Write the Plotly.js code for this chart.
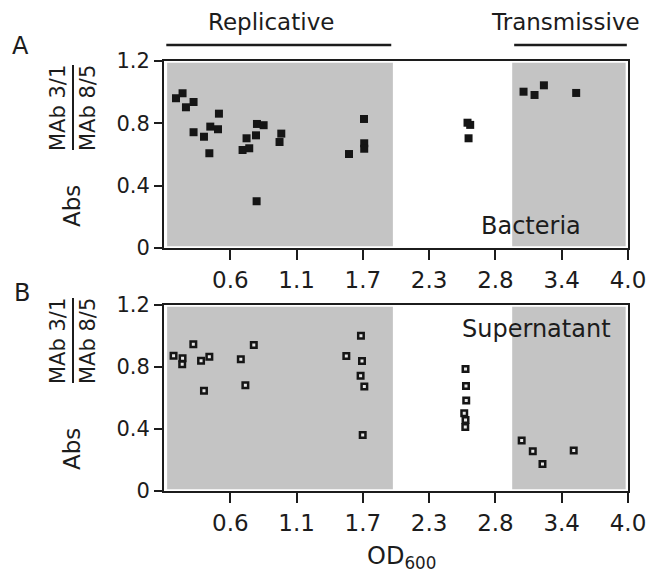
<!DOCTYPE html>
<html>
<head>
<meta charset="utf-8">
<script src="https://cdn.plot.ly/plotly-3.0.1.min.js"></script>
<style>html,body{margin:0;padding:0;background:#fff;}#chart{width:652px;height:572px;}</style>
</head>
<body>
<div id="chart"></div>
<script>
// ---- Data ----
// Panel A: Bacteria (filled squares)
const bacteriaOD  = [0.136,0.192,0.221,0.286,0.286,0.375,0.421,0.429,0.495,0.503,0.705,0.762,0.739,0.820,0.828,0.885,0.825,1.036,1.021,1.615,1.743,1.745,1.745,2.628,2.651,2.637,3.107,3.201,3.281,3.557];
const bacteriaAbs = [0.961,0.993,0.903,0.937,0.743,0.714,0.608,0.779,0.762,0.862,0.629,0.640,0.704,0.723,0.796,0.788,0.300,0.734,0.680,0.603,0.828,0.672,0.637,0.804,0.790,0.704,1.003,0.982,1.044,0.995];
// Panel B: Supernatant (open squares)
const supOD  = [0.115,0.192,0.189,0.284,0.350,0.421,0.375,0.690,0.801,0.729,1.592,1.717,1.726,1.714,1.746,1.732,2.611,2.615,2.617,2.600,2.611,2.609,3.091,3.186,3.269,3.536];
const supAbs = [0.873,0.856,0.817,0.946,0.841,0.866,0.647,0.850,0.942,0.682,0.871,1.002,0.839,0.744,0.675,0.361,0.787,0.677,0.584,0.501,0.458,0.413,0.326,0.256,0.174,0.261];
// Axis ticks
const xTickLabels = ['0.6','1.1','1.7','2.3','2.8','3.4','4.0'];
const xTickValues = [0.6,1.1667,1.7333,2.3,2.8667,3.4333,4.0];
const xRange = [0.0333,4.0];
const yTickValues = [0,0.4,0.8,1.2];
const yTickLabels = ['0','0.4','0.8','1.2'];
const yRange = [0,1.2];
// Growth phase regions (OD)
const replicativeRange = [0.06,1.99];
const transmissiveRange = [3.01,3.98];
const replicativeBar = [0.053,1.976];
const transmissiveBar = [3.027,3.99];

// ---- Layout helpers ----
const W = 652, H = 572;
const px = x => x / W;
const py = y => 1 - y / H;
const INK = '#1c1c1c';
const GRAY = '#c4c4c4';
const FONT = 'DejaVu Sans, sans-serif';

const traces = [
  {x: bacteriaOD, y: bacteriaAbs, type: 'scatter', mode: 'markers', xaxis: 'x', yaxis: 'y',
   marker: {symbol: 'square', size: 8, color: '#151515', line: {width: 0}}},
  {x: supOD, y: supAbs, type: 'scatter', mode: 'markers', xaxis: 'x2', yaxis: 'y2',
   marker: {symbol: 'square', size: 5.5, color: '#e6e6e6', line: {width: 2.5, color: '#151515'}}}
];

function xAxis(anchor) {
  return {domain: [px(164), px(628)], range: xRange, anchor: anchor,
    tickmode: 'array', tickvals: xTickValues, ticktext: xTickLabels,
    ticks: 'outside', ticklen: 10, tickwidth: 2, tickcolor: INK,
    showline: true, linewidth: 2, linecolor: INK, mirror: true,
    showgrid: false, zeroline: false,
    tickfont: {family: FONT, size: 23, color: INK}};
}
function yAxis(anchor, top, bottom) {
  return {domain: [py(bottom), py(top)], range: yRange, anchor: anchor,
    tickmode: 'array', tickvals: yTickValues, ticktext: yTickLabels,
    ticks: 'outside', ticklen: 8, tickwidth: 2, tickcolor: INK,
    showline: true, linewidth: 2, linecolor: INK, mirror: true,
    showgrid: false, zeroline: false,
    tickfont: {family: FONT, size: 21, color: INK}};
}

const shapes = [];
[['x','y'],['x2','y2']].forEach(([xr,yr]) => {
  [replicativeRange, transmissiveRange].forEach(r => {
    shapes.push({type: 'rect', xref: xr, yref: yr, x0: r[0], x1: r[1], y0: 0.012, y1: 1.188,
      fillcolor: GRAY, line: {width: 0}, layer: 'below'});
  });
});
[replicativeBar, transmissiveBar].forEach(r => {
  shapes.push({type: 'line', xref: 'x', yref: 'paper', x0: r[0], x1: r[1], y0: py(45), y1: py(45),
    line: {color: INK, width: 2.5}});
});
// fraction bars of the y titles
[[65,150],[298,383]].forEach(([a,b]) => {
  shapes.push({type: 'line', xref: 'paper', yref: 'paper', x0: px(73), x1: px(73), y0: py(a), y1: py(b),
    line: {color: INK, width: 2}});
});

function ann(text, x, y, size, angle) {
  return {text: text, xref: 'paper', yref: 'paper', x: px(x), y: py(y),
    xanchor: 'center', yanchor: 'middle', showarrow: false, textangle: angle || 0,
    font: {family: FONT, size: size, color: INK}};
}
const annotations = [
  ann('A', 20, 46, 24),
  ann('B', 22, 293, 24),
  ann('Replicative', 271, 22, 23),
  ann('Transmissive', 565, 22, 23),
  ann('Bacteria', 531, 226, 24),
  ann('Supernatant', 536, 329, 24),
  ann('Abs', 72, 206, 23, -90),
  ann('MAb 3/1', 58, 108, 21, -90),
  ann('MAb 8/5', 88, 108, 21, -90),
  ann('Abs', 72, 449, 23, -90),
  ann('MAb 3/1', 58, 341, 21, -90),
  ann('MAb 8/5', 88, 341, 21, -90),
  ann('OD<sub>600</sub>', 401, 557, 24)
];

const layout = {
  width: W, height: H, margin: {l: 0, r: 0, t: 0, b: 0},
  paper_bgcolor: '#ffffff', plot_bgcolor: '#ffffff', showlegend: false,
  font: {family: FONT, color: INK},
  xaxis: xAxis('y'), yaxis: yAxis('x', 61, 248),
  xaxis2: xAxis('y2'), yaxis2: yAxis('x2', 305, 491),
  shapes: shapes, annotations: annotations
};

Plotly.newPlot('chart', traces, layout, {staticPlot: true, displayModeBar: false});
</script>
</body>
</html>
